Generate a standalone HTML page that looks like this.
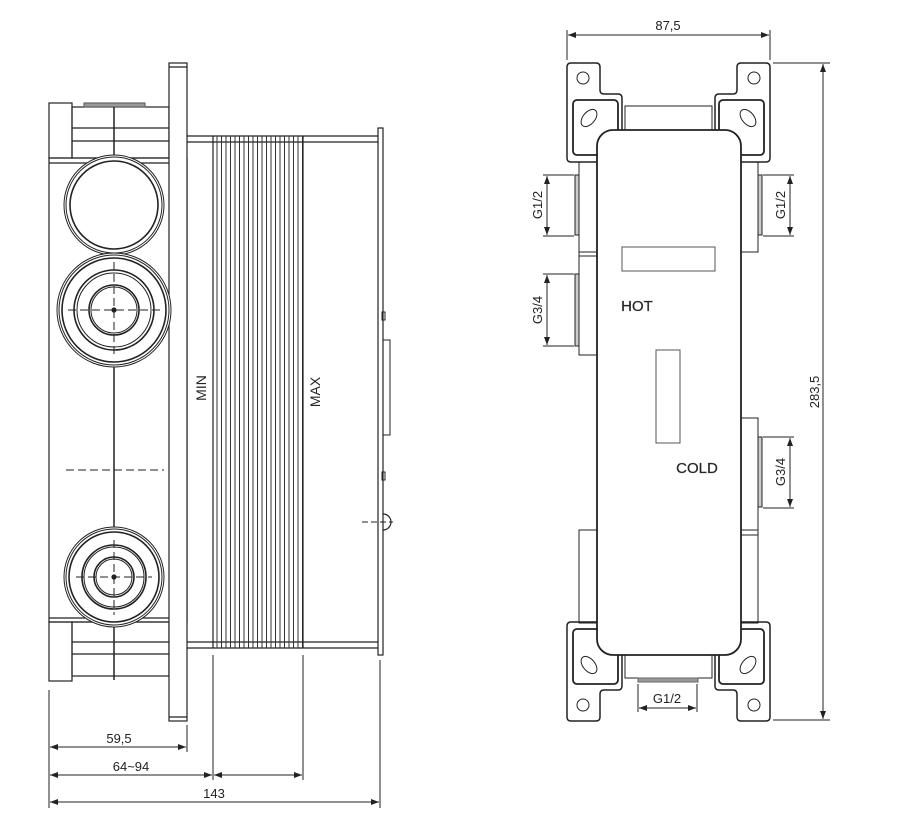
<!DOCTYPE html>
<html><head><meta charset="utf-8"><style>
html,body{margin:0;padding:0;background:#fff;}
svg{display:block;}
text{font-family:"Liberation Sans",sans-serif;fill:#222;}
</style></head><body>
<svg width="897" height="835" viewBox="0 0 897 835" xmlns="http://www.w3.org/2000/svg">
<defs>
<marker id="a" markerWidth="8" markerHeight="6" refX="8" refY="3" orient="auto-start-reverse"><path d="M0,0 L8,3 L0,6z" fill="#222"/></marker>
<pattern id="rib" width="4.5" height="10" patternUnits="userSpaceOnUse"><line x1="1" y1="0" x2="1" y2="10" stroke="#333" stroke-width="1"/></pattern>
</defs>
<g fill="none" stroke="#222" stroke-width="1.2">
<!-- LEFT VIEW -->
<rect x="49" y="158" width="138" height="464" fill="#fff"/>
<line x1="49" y1="163" x2="187" y2="163"/>
<line x1="49" y1="618" x2="187" y2="618"/>
<rect x="49" y="103" width="23" height="55"/>
<rect x="72" y="107" width="97" height="51"/>
<line x1="72" y1="128" x2="169" y2="128"/><line x1="72" y1="141" x2="169" y2="141"/>
<rect x="84" y="103" width="61" height="4" fill="#999" stroke="#666"/>
<rect x="49" y="622" width="23" height="59"/>
<rect x="72" y="622" width="97" height="54"/>
<line x1="72" y1="642" x2="169" y2="642"/><line x1="72" y1="654" x2="169" y2="654"/>
<rect x="169" y="63" width="18" height="658" fill="#fff"/>
<line x1="169" y1="67" x2="187" y2="67"/><line x1="169" y1="717" x2="187" y2="717"/>
<line x1="114" y1="107" x2="114" y2="680" stroke-width="1.5"/>
<!-- circles -->
<circle cx="114" cy="205" r="50" fill="#fff" stroke-width="1"/>
<circle cx="114" cy="205" r="48" stroke-width="1"/>
<circle cx="114" cy="205" r="44" stroke-width="1.6"/>
<circle cx="114" cy="310" r="57" fill="#fff" stroke-width="1"/>
<circle cx="114" cy="310" r="55" stroke-width="1"/>
<circle cx="114" cy="310" r="52" stroke-width="1.6"/>
<circle cx="114" cy="310" r="40" stroke-width="1.6"/>
<circle cx="114" cy="310" r="37" stroke-width="1"/>
<circle cx="114" cy="310" r="25" stroke-width="1.6"/>
<circle cx="114" cy="310" r="23" stroke-width="1"/>
<circle cx="114" cy="577" r="50" fill="#fff" stroke-width="1"/>
<circle cx="114" cy="577" r="48" stroke-width="1"/>
<circle cx="114" cy="577" r="45" stroke-width="1.6"/>
<circle cx="114" cy="577" r="32" stroke-width="1.6"/>
<circle cx="114" cy="577" r="30" stroke-width="1"/>
<circle cx="114" cy="577" r="20" stroke-width="1.6"/>
<circle cx="114" cy="577" r="18" stroke-width="1"/>
<g stroke-dasharray="8,4" stroke-width="1">
<line x1="68" y1="310" x2="162" y2="310"/><line x1="114" y1="262" x2="114" y2="358"/>
<line x1="76" y1="577" x2="152" y2="577"/><line x1="114" y1="540" x2="114" y2="615"/>
<line x1="66" y1="470" x2="164" y2="470"/>
</g>
<circle cx="114" cy="310" r="2" fill="#222"/><circle cx="114" cy="577" r="2" fill="#222"/>
<!-- body -->
<line x1="187" y1="136" x2="378" y2="136"/><line x1="187" y1="142" x2="378" y2="142"/>
<line x1="187" y1="642" x2="378" y2="642"/><line x1="187" y1="648" x2="378" y2="648"/>
<rect x="213" y="136" width="90" height="512" fill="url(#rib)" stroke="none"/>
<line x1="213" y1="136" x2="213" y2="648"/><line x1="303" y1="136" x2="303" y2="648"/>
<rect x="378" y="128" width="5" height="527" fill="#fff"/>
<rect x="383" y="340" width="7" height="95" stroke-width="1"/>
<rect x="382" y="312" width="3" height="8" stroke-width="1"/>
<rect x="382" y="472" width="3" height="8" stroke-width="1"/>
<path d="M383,514 A8,8 0 0 1 383,530" stroke-width="1.2"/>
<line x1="362" y1="522" x2="393" y2="522" stroke-dasharray="6,3" stroke-width="1"/>
<!-- left dims -->
<g stroke-width="1">
<line x1="49" y1="690" x2="49" y2="808"/><line x1="187" y1="725" x2="187" y2="752"/>
<line x1="213" y1="655" x2="213" y2="780"/><line x1="303" y1="655" x2="303" y2="780"/>
<line x1="380" y1="660" x2="380" y2="808"/>
<line x1="50" y1="747" x2="186" y2="747" marker-start="url(#a)" marker-end="url(#a)"/>
<line x1="50" y1="775" x2="212" y2="775" marker-start="url(#a)" marker-end="url(#a)"/>
<line x1="214" y1="775" x2="302" y2="775" marker-start="url(#a)" marker-end="url(#a)"/>
<line x1="50" y1="802" x2="379" y2="802" marker-start="url(#a)" marker-end="url(#a)"/>
</g>

<!-- RIGHT VIEW -->
<rect x="579" y="162" width="18" height="193" stroke-width="1"/>
<line x1="579" y1="252" x2="597" y2="252" stroke-width="1"/><line x1="579" y1="256" x2="597" y2="256" stroke-width="1"/>
<rect x="575" y="175" width="4" height="60" stroke-width="1" fill="#ccc"/>
<rect x="575" y="274" width="4" height="72" stroke-width="1" fill="#ccc"/>
<rect x="579" y="530" width="18" height="93" stroke-width="1"/>
<rect x="741" y="162" width="17" height="90" stroke-width="1"/>
<rect x="741" y="418" width="17" height="205" stroke-width="1"/>
<line x1="741" y1="530" x2="758" y2="530" stroke-width="1"/><line x1="741" y1="535" x2="758" y2="535" stroke-width="1"/>
<rect x="758" y="175" width="4" height="60" stroke-width="1" fill="#ccc"/>
<rect x="758" y="437" width="4" height="70" stroke-width="1" fill="#ccc"/>
<path d="M571,63 H596 Q600,63 600,67 V90 Q600,94 604,94 H618 Q622,94 622,98 V158 Q622,162 618,162 H571 Q567,162 567,158 V67 Q567,63 571,63Z" stroke-width="1.5"/>
<rect x="573" y="100" width="45" height="55" rx="4" stroke-width="1.8"/>
<path d="M766,63 H741 Q737,63 737,67 V90 Q737,94 733,94 H719 Q715,94 715,98 V158 Q715,162 719,162 H766 Q770,162 770,158 V67 Q770,63 766,63Z" stroke-width="1.5"/>
<rect x="719" y="100" width="45" height="55" rx="4" stroke-width="1.8"/>
<path d="M571,721 H596 Q600,721 600,717 V694 Q600,690 604,690 H618 Q622,690 622,686 V626 Q622,622 618,622 H571 Q567,622 567,626 V717 Q567,721 571,721Z" stroke-width="1.5"/>
<rect x="573" y="629" width="45" height="55" rx="4" stroke-width="1.8"/>
<path d="M766,721 H741 Q737,721 737,717 V694 Q737,690 733,690 H719 Q715,690 715,686 V626 Q715,622 719,622 H766 Q770,622 770,626 V717 Q770,721 766,721Z" stroke-width="1.5"/>
<rect x="719" y="629" width="45" height="55" rx="4" stroke-width="1.8"/>
<circle cx="583" cy="78" r="6" stroke-width="1"/><circle cx="754" cy="78" r="6" stroke-width="1"/>
<circle cx="583" cy="705" r="6" stroke-width="1"/><circle cx="754" cy="705" r="6" stroke-width="1"/>
<ellipse cx="589" cy="118" rx="10" ry="6" transform="rotate(-50 589 118)" stroke-width="1"/>
<ellipse cx="748" cy="118" rx="10" ry="6" transform="rotate(50 748 118)" stroke-width="1"/>
<ellipse cx="589" cy="665" rx="10" ry="6" transform="rotate(50 589 665)" stroke-width="1"/>
<ellipse cx="748" cy="665" rx="10" ry="6" transform="rotate(-50 748 665)" stroke-width="1"/>
<rect x="625" y="106" width="87" height="26" stroke-width="1"/>
<rect x="625" y="652" width="87" height="26" stroke-width="1"/>
<rect x="638" y="678" width="60" height="4" fill="#999" stroke="#666" stroke-width="1"/>
<rect x="597" y="130" width="144" height="525" rx="16" fill="#fff" stroke-width="1.8"/>
<rect x="622" y="247" width="93" height="24" stroke="#555" stroke-width="1"/>
<rect x="656" y="350" width="24" height="93" stroke="#555" stroke-width="1"/>
<g stroke-width="1">
<line x1="567" y1="30" x2="567" y2="60"/><line x1="770" y1="30" x2="770" y2="60"/>
<line x1="568" y1="35" x2="769" y2="35" marker-start="url(#a)" marker-end="url(#a)"/>
<line x1="773" y1="63" x2="830" y2="63"/><line x1="773" y1="720" x2="830" y2="720"/>
<line x1="823" y1="64" x2="823" y2="719" marker-start="url(#a)" marker-end="url(#a)"/>
<line x1="543" y1="175" x2="574" y2="175"/><line x1="543" y1="236" x2="574" y2="236"/>
<line x1="547" y1="176" x2="547" y2="235" marker-start="url(#a)" marker-end="url(#a)"/>
<line x1="543" y1="274" x2="574" y2="274"/><line x1="543" y1="346" x2="574" y2="346"/>
<line x1="547" y1="275" x2="547" y2="345" marker-start="url(#a)" marker-end="url(#a)"/>
<line x1="763" y1="175" x2="794" y2="175"/><line x1="763" y1="236" x2="794" y2="236"/>
<line x1="790" y1="176" x2="790" y2="235" marker-start="url(#a)" marker-end="url(#a)"/>
<line x1="763" y1="437" x2="794" y2="437"/><line x1="763" y1="508" x2="794" y2="508"/>
<line x1="790" y1="438" x2="790" y2="507" marker-start="url(#a)" marker-end="url(#a)"/>
<line x1="638" y1="684" x2="638" y2="712"/><line x1="697" y1="684" x2="697" y2="712"/>
<line x1="639" y1="708" x2="696" y2="708" marker-start="url(#a)" marker-end="url(#a)"/>
</g>
</g>
<g font-size="13">
<text x="119" y="743" text-anchor="middle">59,5</text>
<text x="131" y="771" text-anchor="middle">64~94</text>
<text x="214" y="798" text-anchor="middle">143</text>
<text x="668" y="30" text-anchor="middle">87,5</text>
<text transform="translate(819,392) rotate(-90)" text-anchor="middle">283,5</text>
<text transform="translate(542,205) rotate(-90)" text-anchor="middle">G1/2</text>
<text transform="translate(542,310) rotate(-90)" text-anchor="middle">G3/4</text>
<text transform="translate(785,205) rotate(-90)" text-anchor="middle">G1/2</text>
<text transform="translate(785,472) rotate(-90)" text-anchor="middle">G3/4</text>
<text x="667" y="703" text-anchor="middle">G1/2</text>
<text x="637" y="311" text-anchor="middle" font-size="15" fill="#444" stroke="#444" stroke-width="0.3">HOT</text>
<text x="697" y="473" text-anchor="middle" font-size="15" fill="#444" stroke="#444" stroke-width="0.3">COLD</text>
<text transform="translate(206,388) rotate(-90)" text-anchor="middle" font-size="14">MIN</text>
<text transform="translate(320,392) rotate(-90)" text-anchor="middle" font-size="14">MAX</text>
</g>
</svg>
</body></html>
